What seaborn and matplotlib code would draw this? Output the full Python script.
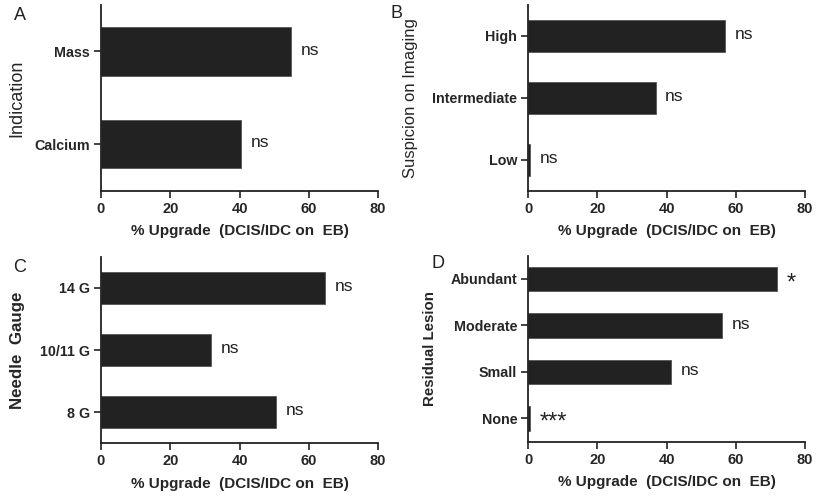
import matplotlib
matplotlib.use("Agg")
import pandas as pd
import matplotlib.pyplot as plt
import seaborn as sns

# panel A
indication = ["Mass", "Calcium"]
indication_pct = [55.0, 40.5]
indication_sig = ["ns", "ns"]

# panel B
suspicion = ["High", "Intermediate", "Low"]
suspicion_pct = [57.0, 36.8, 0.5]
suspicion_sig = ["ns", "ns", "ns"]

# panel C
gauge = ["14 G", "10/11 G", "8 G"]
gauge_pct = [64.8, 31.7, 50.5]
gauge_sig = ["ns", "ns", "ns"]

# panel D
lesion = ["Abundant", "Moderate", "Small", "None"]
lesion_pct = [72.0, 55.9, 41.4, 0.5]
lesion_sig = ["*", "ns", "ns", "***"]

xticks = [0, 20, 40, 60, 80]
xlabel = "% Upgrade  (DCIS/IDC on  EB)"

sns.set_style("ticks")
plt.rcParams["font.family"] = ["Liberation Sans", "DejaVu Sans"]

BAR = "#222222"


def panel(ax, cats, vals, sigs, ylab, letter, ylab_style, ylab_x, letter_xy):
    df = pd.DataFrame({"cat": cats, "pct": vals})
    sns.barplot(data=df, x="pct", y="cat", orient="h", color=BAR,
                saturation=1, width=0.52, edgecolor="#555555",
                linewidth=0.6, ax=ax)
    ax.set_xlim(0, 80)
    ax.set_ylim(len(cats) - 0.5, -0.5)
    ax.set_xticks(xticks)
    ax.set_xticklabels([str(t) for t in xticks], fontweight="bold", fontsize=10.5)
    ax.set_yticks(range(len(cats)))
    ax.set_yticklabels(cats, fontweight="bold", fontsize=10.3)
    ax.tick_params(axis="both", length=5, width=1.2, color="#222222", pad=3)
    for s in ["top", "right"]:
        ax.spines[s].set_visible(False)
    for s in ["left", "bottom"]:
        ax.spines[s].set_linewidth(1.3)
        ax.spines[s].set_color("#222222")
    ax.set_xlabel(xlabel, fontweight="bold", fontsize=11, labelpad=6)
    ax.set_ylabel(ylab, fontweight=ylab_style[0], fontsize=ylab_style[1])
    ax.yaxis.set_label_coords(ylab_x, 0.5)
    for i, (v, s) in enumerate(zip(vals, sigs)):
        if s.startswith("*"):
            ax.annotate(s, xy=(v, i), xytext=(7, -3), textcoords="offset points",
                        va="center", ha="left", fontsize=17, color="#222222")
        else:
            ax.annotate(s, xy=(v, i), xytext=(7, 1), textcoords="offset points",
                        va="center", ha="left", fontsize=12.5, color="#222222")
    fig.text(letter_xy[0], letter_xy[1], letter, fontsize=13,
             ha="center", va="center", color="#222222")


fig = plt.figure(figsize=(8.17, 4.96), dpi=100)
axA = fig.add_axes([0.1236, 0.6155, 0.3391, 0.3745])
axB = fig.add_axes([0.6466, 0.6155, 0.3387, 0.3745])
axC = fig.add_axes([0.1236, 0.1062, 0.3391, 0.3763])
axD = fig.add_axes([0.6466, 0.1095, 0.3387, 0.3750])

panel(axA, indication, indication_pct, indication_sig, "Indication", "A",
      ("normal", 13), -0.274, (20 / 817, 1 - 16 / 496))
panel(axB, suspicion, suspicion_pct, suspicion_sig, "Suspicion on Imaging", "B",
      ("normal", 12), -0.399, (396 / 817, 1 - 14 / 496))
panel(axC, gauge, gauge_pct, gauge_sig, "Needle  Gauge", "C",
      ("bold", 12.2), -0.274, (20 / 817, 1 - 267 / 496))
panel(axD, lesion, lesion_pct, lesion_sig, "Residual Lesion", "D",
      ("bold", 10.8), -0.33, (438 / 817, 1 - 264 / 496))

fig.savefig("out.png", dpi=100, facecolor="white")
